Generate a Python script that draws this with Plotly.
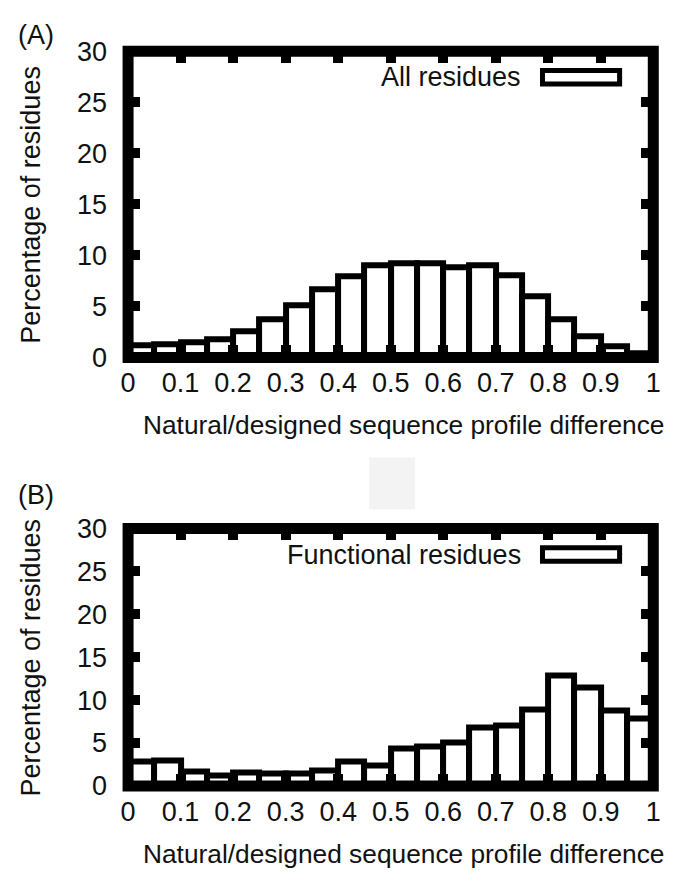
import plotly.graph_objects as go

W, H = 673, 883

# ---- data ----
bin_left = [round(0.05 * i, 2) for i in range(20)]
bin_width = 0.05
all_residues = [1.2, 1.3, 1.45, 1.75, 2.6, 3.75, 5.15, 6.7, 8.0, 9.0,
                9.25, 9.25, 8.85, 9.05, 8.1, 6.0, 3.7, 2.1, 1.1, 0.4]
functional_residues = [2.9, 3.0, 1.65, 1.25, 1.6, 1.5, 1.5, 1.8, 2.8, 2.4,
                       4.4, 4.6, 5.1, 6.8, 7.0, 8.9, 12.9, 11.5, 8.8, 7.9]
x_ticks = [round(0.1 * i, 1) for i in range(11)]
y_ticks = [0, 5, 10, 15, 20, 25, 30]
panel_labels = ["(A)", "(B)"]
legend_labels = ["All residues", "Functional residues"]
x_title = "Natural/designed sequence profile difference"
y_title = "Percentage of residues"

FONT = "Liberation Sans, Arial, Helvetica, sans-serif"
FS = 27
INK = "#111111"

def px_x(p):
    return p / W

def px_y(p):
    return 1 - p / H

# panel pixel geometry (frame line centres)
x_left, x_right = 123, 661
panels = [
    dict(top=37.5, bottom=354.5),
    dict(top=531.5, bottom=798.0),
]

fig = go.Figure()
centers = [b + bin_width / 2 for b in bin_left]
for i, vals in enumerate([all_residues, functional_residues]):
    suffix = "" if i == 0 else str(i + 1)
    fig.add_trace(go.Bar(
        x=centers, y=vals, width=[bin_width] * len(vals),
        marker=dict(color="white", line=dict(color="black", width=6)),
        xaxis="x" + suffix, yaxis="y" + suffix, showlegend=False,
    ))

layout = dict(
    width=W, height=H, margin=dict(l=0, r=0, t=0, b=0),
    paper_bgcolor="white", plot_bgcolor="white",
    font=dict(family=FONT, size=FS, color=INK),
    bargap=0, showlegend=False,
)

shapes = []
annotations = []
# faint scan artefact square
shapes.append(dict(type="rect", xref="paper", yref="paper",
                   x0=px_x(370), x1=px_x(417), y0=px_y(512), y1=px_y(458),
                   line=dict(width=0), fillcolor="#f3f3f3", layer="below"))

for i, p in enumerate(panels):
    suffix = "" if i == 0 else str(i + 1)
    xa = "xaxis" + suffix
    ya = "yaxis" + suffix
    xdom = [px_x(x_left), px_x(x_right)]
    ydom = [px_y(p["bottom"]), px_y(p["top"])]
    layout[xa] = dict(
        domain=xdom, range=[0, 1], anchor="y" + suffix,
        tickmode="array", tickvals=x_ticks, ticktext=[f"{v:g}" for v in x_ticks],
        ticks="inside", ticklen=12, tickwidth=10, tickcolor="black",
        mirror="ticks", showline=False, showgrid=False, zeroline=False,
        tickfont=dict(family=FONT, size=FS, color=INK), ticklabelstandoff=7,
    )
    layout[ya] = dict(
        domain=ydom, range=[0, 30], anchor="x" + suffix,
        tickmode="array", tickvals=y_ticks, ticktext=[str(v) for v in y_ticks],
        ticks="inside", ticklen=12, tickwidth=10, tickcolor="black",
        mirror="ticks", showline=False, showgrid=False, zeroline=False,
        tickfont=dict(family=FONT, size=FS, color=INK), ticklabelstandoff=20,
    )
    # thick frame
    shapes.append(dict(type="rect", xref="x" + suffix + " domain", yref="y" + suffix + " domain",
                       x0=0, x1=1, y0=0, y1=1, line=dict(color="black", width=11),
                       fillcolor="rgba(0,0,0,0)", layer="above"))
    # legend sample box
    off = p["top"] - panels[0]["top"]
    shapes.append(dict(type="rect", xref="paper", yref="paper",
                       x0=px_x(547.5), x1=px_x(626.5),
                       y0=px_y(71.5 + off), y1=px_y(57.5 + off),
                       line=dict(color="black", width=5), fillcolor="white", layer="above"))
    annotations.append(dict(text=legend_labels[i], xref="paper", yref="paper",
                            x=px_x(528), y=px_y(64.5 + off), xanchor="right", yanchor="middle",
                            showarrow=False, font=dict(family=FONT, size=FS, color=INK)))
    # axis titles
    annotations.append(dict(text=y_title, xref="paper", yref="paper",
                            x=px_x(24), y=(ydom[0] + ydom[1]) / 2, textangle=-90,
                            xanchor="center", yanchor="middle", showarrow=False,
                            font=dict(family=FONT, size=FS, color=INK)))
    annotations.append(dict(text=x_title, xref="paper", yref="paper",
                            x=px_x(136), y=px_y(p["bottom"] + 70), xanchor="left", yanchor="middle",
                            showarrow=False, font=dict(family=FONT, size=26.3, color=INK)))

annotations.append(dict(text=panel_labels[0], xref="paper", yref="paper",
                        x=px_x(8), y=px_y(21), xanchor="left", yanchor="middle",
                        showarrow=False, font=dict(family=FONT, size=FS, color=INK)))
annotations.append(dict(text=panel_labels[1], xref="paper", yref="paper",
                        x=px_x(8), y=px_y(497), xanchor="left", yanchor="middle",
                        showarrow=False, font=dict(family=FONT, size=FS, color=INK)))

layout["shapes"] = shapes
layout["annotations"] = annotations
fig.update_layout(**layout)
fig.write_html("out.html")
